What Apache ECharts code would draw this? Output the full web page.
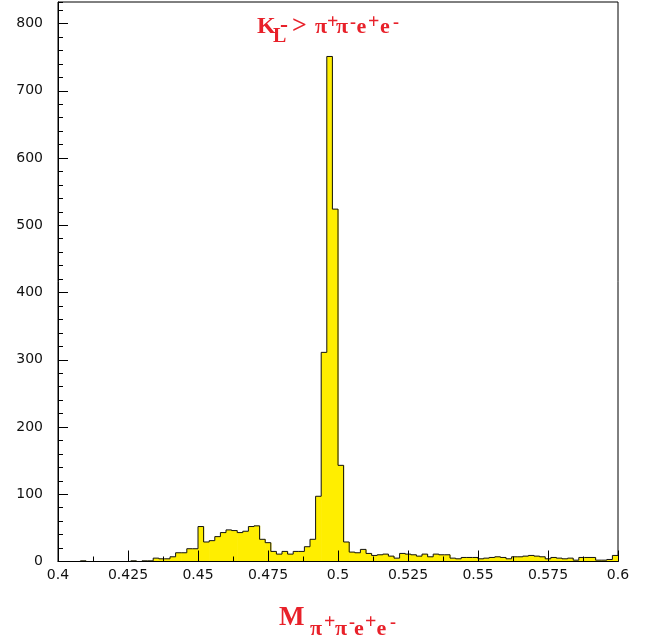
<!DOCTYPE html>
<html><head><meta charset="utf-8">
<script src="https://cdn.jsdelivr.net/npm/echarts@6/dist/echarts.min.js"></script>
<style>html,body{margin:0;padding:0;background:#fff}#c{width:652px;height:644px}</style>
</head><body><div id="c"></div>
<script>
// Histogram of M(pi+ pi- e+ e-), 100 bins from 0.4 to 0.6
const binStart = 0.4;
const binWidth = 0.002;
const counts = [
  0, 0, 0, 0, 1, 0, 0, 0, 0, 0,
  0, 0, 0, 1, 0, 1, 1, 5, 4, 4,
  7, 13, 13, 19, 19, 52, 29, 31, 37, 43,
  47, 46, 43, 45, 52, 53, 33, 28, 15, 11,
  15, 11, 15, 15, 22, 33, 97, 311, 751, 524,
  143, 29, 14, 13, 18, 12, 9, 10, 11, 8,
  5, 12, 11, 10, 8, 11, 7, 11, 10, 10,
  5, 4, 6, 6, 6, 4, 5, 6, 7, 6,
  4, 7, 7, 8, 9, 8, 7, 4, 6, 5,
  4, 5, 2, 6, 6, 6, 2, 2, 3, 9
];
const xMin = 0.4, xMax = 0.6, xMajor = 0.025, xMinor = 0.0125;
const yMin = 0, yMax = 832, yMajor = 100, yMinor = 20;

const RED = '#e8212a';
const FILL = '#ffee00';
// title pieces: text, left x, baseline y, font size
const titlePieces = [
  ['K', 257, 34.5, 24], ['L', 273, 43.5, 20], ['-', 280, 34, 24], ['>', 292, 34.5, 26],
  ['\u03c0', 315, 34.5, 22], ['+', 327, 29, 20], ['\u03c0', 336, 34.5, 22], ['-', 350, 29, 18],
  ['e', 356.5, 34.5, 22], ['+', 368, 29, 20], ['e', 380, 34.5, 22], ['-', 393, 29, 18]
];
const axisTitlePieces = [
  ['M', 279, 627, 27], ['\u03c0', 310, 637, 22], ['+', 324, 629, 20], ['\u03c0', 335, 637, 22],
  ['-', 349, 629, 18], ['e', 354, 637, 22], ['+', 365, 629, 20], ['e', 376.5, 637, 22], ['-', 390, 629, 18]
];

// one item per bin: [lowEdge, highEdge, count, previous count]
const binItems = counts.map((v, i) => [
  binStart + i * binWidth, binStart + (i + 1) * binWidth, v, i > 0 ? counts[i - 1] : 0
]);

function renderBin(params, api) {
  const x0 = api.value(0), x1 = api.value(1), v = api.value(2), prev = api.value(3);
  const base = api.coord([x0, 0]);
  const topL = api.coord([x0, v]);
  const topR = api.coord([x1, v]);
  const prevL = api.coord([x0, prev]);
  return {
    type: 'group',
    children: [
      {type: 'rect', shape: {x: base[0], y: topL[1], width: topR[0] - topL[0] + 0.6, height: base[1] - topL[1]},
       style: {fill: FILL}},
      {type: 'polyline', shape: {points: [prevL, topL, topR]},
       style: {stroke: '#111', lineWidth: 1, fill: null}, z2: 5}
    ]
  };
}

function pieceEls(pieces) {
  return pieces.map(p => ({
    type: 'text', x: p[1], y: p[2] - 0.33 * p[3], z: 100,
    style: {
      text: p[0], fill: RED,
      font: 'bold ' + p[3] + 'px "Liberation Serif", "DejaVu Serif", serif',
      textAlign: 'left', align: 'left', textVerticalAlign: 'middle', verticalAlign: 'middle'
    }
  }));
}

const labelStyle = {color: '#111', fontFamily: 'DejaVu Sans', fontSize: 14};
const chart = echarts.init(document.getElementById('c'), null, {renderer: 'canvas'});
chart.setOption({
  animation: false,
  backgroundColor: '#fff',
  grid: {left: 58, right: 34, top: 2, bottom: 82.5, show: true, borderColor: '#000', borderWidth: 1, backgroundColor: 'transparent'},
  xAxis: [
    {type: 'value', min: xMin, max: xMax, interval: xMajor, position: 'bottom', z: 10,
     axisLine: {show: true, onZero: false, lineStyle: {color: '#000', width: 1}},
     axisTick: {show: true, inside: true, length: 11, lineStyle: {color: '#000'}},
     axisLabel: Object.assign({margin: 7}, labelStyle),
     splitLine: {show: false}},
    {type: 'value', min: xMin, max: xMax, interval: xMinor, position: 'bottom', z: 10,
     axisLine: {show: false, onZero: false},
     axisTick: {show: true, inside: true, length: 5, lineStyle: {color: '#000'}},
     axisLabel: {show: false}, splitLine: {show: false}}
  ],
  yAxis: [
    {type: 'value', min: yMin, max: yMax, interval: yMajor, position: 'left', z: 10,
     axisLine: {show: true, onZero: false, lineStyle: {color: '#000', width: 1}},
     axisTick: {show: true, inside: true, length: 10, lineStyle: {color: '#000'}},
     axisLabel: Object.assign({margin: 15, showMaxLabel: false}, labelStyle),
     splitLine: {show: false}},
    {type: 'value', min: yMin, max: yMax, interval: yMinor, position: 'left', z: 10,
     axisLine: {show: false, onZero: false},
     axisTick: {show: true, inside: true, length: 5, lineStyle: {color: '#000'}},
     axisLabel: {show: false}, splitLine: {show: false}}
  ],
  series: [{
    type: 'custom', xAxisIndex: 0, yAxisIndex: 0, data: binItems,
    renderItem: renderBin, clip: true, z: 2,
    encode: {x: [0, 1], y: 2}
  }],
  graphic: pieceEls(titlePieces).concat(pieceEls(axisTitlePieces))
});
</script>
</body></html>
